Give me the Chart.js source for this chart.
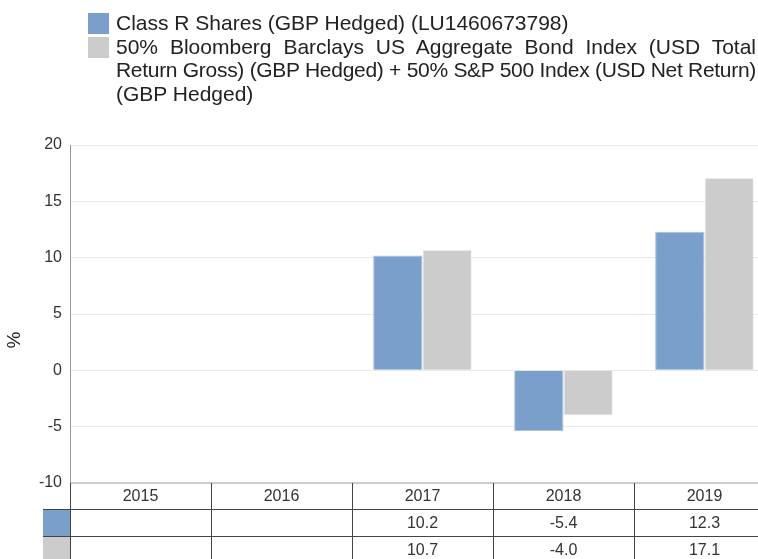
<!DOCTYPE html>
<html>
<head>
<meta charset="utf-8">
<script src="https://cdn.jsdelivr.net/npm/chart.js@4"></script>
<style>
    html, body { margin: 0; padding: 0; background: #fff; overflow: hidden; }
    #wrap { position: relative; width: 776px; height: 559px; }
    #legend { position: absolute; left: 88px; top: 11px; width: 668px;
        font-family: "Liberation Sans", Arial, sans-serif; font-size: 21px; color: #222; }
    .item { position: relative; padding-left: 28px; line-height: 23.5px; }
    .sw { position: absolute; left: 0; top: 2px; width: 21px; height: 21px; }
    .line { text-align: justify; text-align-last: justify; white-space: nowrap; }
    .last { text-align-last: left; }
</style>
</head>
<body>
<div id="wrap">
    <canvas id="chart" width="776" height="559"></canvas>
    <div id="legend">
        <div class="item"><span class="sw" style="background:#7a9fcb"></span>Class R Shares (GBP Hedged) (LU1460673798)</div>
        <div class="item"><span class="sw" style="background:#cccccc"></span>
            <div class="line" style="white-space:normal">50% Bloomberg Barclays US Aggregate Bond Index (USD Total</div>
            <div class="line" id="squeeze" style="white-space:normal">Return Gross) (GBP Hedged) + 50% S&amp;P 500 Index (USD Net Return)</div>
            <div class="line last">(GBP Hedged)</div>
        </div>
    </div>
</div>
<script>
const years = ['2015', '2016', '2017', '2018', '2019'];
const fundValues = [null, null, 10.2, -5.4, 12.3];
const indexValues = [null, null, 10.7, -4.0, 17.1];
const yTicks = [-10, -5, 0, 5, 10, 15, 20];

const fundColor = '#7a9fcb';
const indexColor = '#cccccc';

// squeeze the long justified legend line so it stays on one row
const sq = document.getElementById('squeeze');
let ls = 0;
while (sq.offsetHeight > 30 && ls > -3) {
    ls -= 0.1;
    sq.style.letterSpacing = ls + 'px';
}

const dataTable = {
    id: 'dataTable',
    afterDraw(chart) {
        const ctx = chart.ctx;
        const x = chart.scales.x;
        const area = chart.chartArea;
        const step = x.getPixelForValue(1) - x.getPixelForValue(0);
        const rowH = 27;
        const top = area.bottom;

        ctx.save();
        // "%" axis title
        ctx.fillStyle = '#222';
        ctx.font = '19px "Liberation Sans", Arial, sans-serif';
        ctx.translate(15, 340);
        ctx.rotate(-Math.PI / 2);
        ctx.textAlign = 'center';
        ctx.textBaseline = 'middle';
        ctx.fillText('%', 0, 0);
        ctx.restore();

        ctx.save();
        // swatches
        ctx.fillStyle = fundColor;
        ctx.fillRect(43, top + rowH - 1, area.left - 43, rowH);
        ctx.fillStyle = indexColor;
        ctx.fillRect(43, top + rowH * 2, area.left - 43, rowH);

        ctx.strokeStyle = '#444';
        ctx.lineWidth = 1;
        ctx.beginPath();
        for (let r = 1; r <= 2; r++) {
            const yy = Math.round(top + rowH * r) - 0.5;
            ctx.moveTo(43, yy);
            ctx.lineTo(area.right, yy);
        }
        for (let i = 0; i <= years.length; i++) {
            const xx = Math.round(x.getPixelForValue(i) - step / 2) + 0.5;
            ctx.moveTo(xx, top);
            ctx.lineTo(xx, chart.height);
        }
        ctx.stroke();

        ctx.fillStyle = '#333';
        ctx.font = '16px "Liberation Sans", Arial, sans-serif';
        ctx.textAlign = 'center';
        ctx.textBaseline = 'middle';
        years.forEach((yr, i) => {
            const cx = x.getPixelForValue(i);
            ctx.fillText(yr, cx, top + rowH / 2);
            if (fundValues[i] !== null) ctx.fillText(fundValues[i].toFixed(1), cx, top + rowH * 1.5);
            if (indexValues[i] !== null) ctx.fillText(indexValues[i].toFixed(1), cx, top + rowH * 2.5);
        });
        ctx.restore();
    }
};

new Chart(document.getElementById('chart'), {
    type: 'bar',
    data: {
        labels: years,
        datasets: [{
            label: 'Class R Shares (GBP Hedged) (LU1460673798)',
            data: fundValues,
            backgroundColor: fundColor,
            borderColor: '#a7c0df',
            borderWidth: 1
        }, {
            label: '50% Bloomberg Barclays US Aggregate Bond Index (USD Total Return Gross) (GBP Hedged) + 50% S&P 500 Index (USD Net Return) (GBP Hedged)',
            data: indexValues,
            backgroundColor: indexColor,
            borderColor: '#f2f2f2',
            borderWidth: 1
        }]
    },
    options: {
        responsive: false,
        animation: false,
        layout: { padding: { top: 145, bottom: 76, right: 1, left: 0 } },
        plugins: { legend: { display: false }, tooltip: { enabled: false } },
        datasets: { bar: { categoryPercentage: 0.7, barPercentage: 1 } },
        scales: {
            x: { display: false },
            y: {
                min: -10,
                max: 20,
                afterFit(scale) { scale.width = 70; },
                afterBuildTicks(scale) { scale.ticks = yTicks.map(v => ({ value: v })); },
                ticks: {
                    padding: 8,
                    color: '#333',
                    font: { family: '"Liberation Sans", Arial, sans-serif', size: 16 }
                },
                grid: {
                    drawTicks: false,
                    color: ctx => ctx.tick && ctx.tick.value === -10 ? '#cccccc' : '#e8e8e8',
                    lineWidth: ctx => ctx.tick && ctx.tick.value === -10 ? 2 : 1
                },
                border: { color: '#999', width: 1 }
            }
        }
    },
    plugins: [dataTable]
});
</script>
</body>
</html>
